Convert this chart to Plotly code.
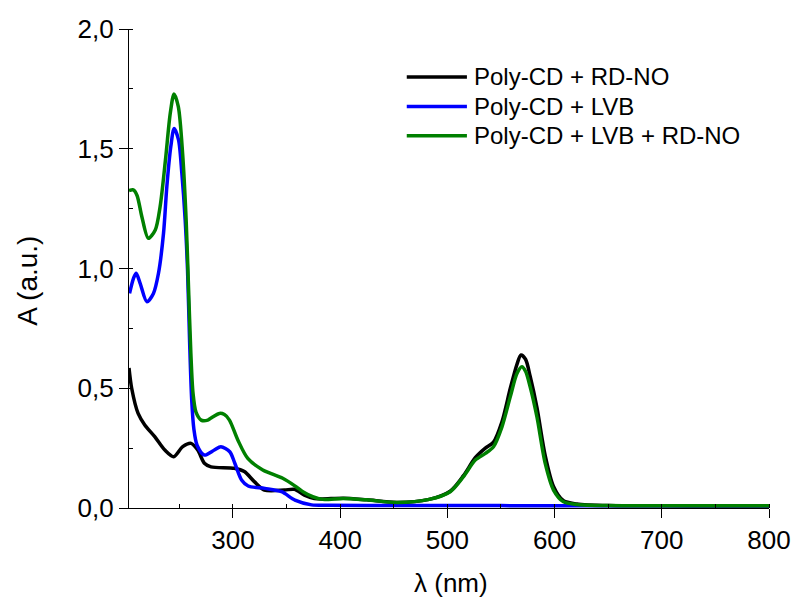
import plotly.graph_objects as go

# UV-Vis absorption spectra (wavelength in nm, absorbance in a.u.)
series_names = ["Poly-CD + RD-NO", "Poly-CD + LVB", "Poly-CD + LVB + RD-NO"]
series_colors = ["#000000", "#0000FF", "#008000"]

wl_rdno = [203, 205.5, 211.5, 217.7, 227, 236.4, 244.7, 253.1, 260.9, 267.1, 273.3, 279.5,
           301.3, 310.6, 319.9, 329.3, 347.9, 357.3, 366.6, 375.9, 383, 403, 425, 453, 483,
           502.6, 515, 526, 535.4, 543, 550.9, 558.7, 564.9, 568.6, 573, 577.2, 583.5, 591.2,
           599, 608.3, 620.7, 650, 700, 750, 800]
abs_rdno = [0.585, 0.50, 0.395, 0.347, 0.298, 0.242, 0.214, 0.256, 0.270, 0.242, 0.187, 0.172,
            0.166, 0.152, 0.110, 0.075, 0.075, 0.078, 0.054, 0.040, 0.038, 0.041, 0.034, 0.023,
            0.036, 0.070, 0.135, 0.210, 0.250, 0.275, 0.360, 0.500, 0.600, 0.639, 0.620, 0.550,
            0.420, 0.220, 0.090, 0.030, 0.017, 0.010, 0.009, 0.008, 0.008]

wl_lvb = [203.5, 207.2, 209.7, 213.4, 219.7, 225.8, 230.5, 235.2, 238.3, 242, 245.1, 249.2,
          252.3, 255.4, 257.6, 259.5, 261.5, 263.5, 266.5, 273.3, 282.6, 288.7, 297, 301.7,
          308, 314.2, 329.7, 345.3, 357.8, 373.3, 390, 450, 550, 650, 800]
abs_lvb = [0.896, 0.959, 0.98, 0.938, 0.861, 0.896, 0.98, 1.147, 1.342, 1.509, 1.585, 1.537,
           1.397, 1.203, 0.994, 0.70, 0.45, 0.33, 0.262, 0.221, 0.242, 0.256, 0.235, 0.187,
           0.117, 0.092, 0.082, 0.068, 0.033, 0.013, 0.011, 0.010, 0.010, 0.009, 0.009]

wl_mix = [203, 207, 210.5, 215, 221, 227.5, 232, 237, 241.5, 245, 249, 253, 256.3, 258.5,
          260.7, 262.7, 265.5, 270.3, 276.5, 281, 287.4, 292, 296.7, 304.5, 313.8, 327.8, 346.4,
          358.8, 366, 374.4, 383.7, 403, 425, 453, 483, 502.6, 515, 526, 535.4, 543, 550.9,
          558.7, 564.9, 569.5, 573, 577.2, 583.5, 591.2, 599, 608.3, 620.7, 650, 700, 800]
abs_mix = [1.325, 1.328, 1.305, 1.216, 1.126, 1.161, 1.258, 1.453, 1.648, 1.729, 1.676, 1.481,
           1.203, 0.924, 0.646, 0.48, 0.40, 0.367, 0.367, 0.38, 0.395, 0.39, 0.367, 0.284,
           0.207, 0.159, 0.124, 0.089, 0.066, 0.047, 0.036, 0.040, 0.034, 0.023, 0.036, 0.068,
           0.131, 0.200, 0.228, 0.256, 0.339, 0.465, 0.562, 0.590, 0.570, 0.506, 0.381, 0.187,
           0.075, 0.026, 0.015, 0.010, 0.009, 0.009]

x_data = [wl_rdno, wl_lvb, wl_mix]
y_data = [abs_rdno, abs_lvb, abs_mix]

FONT = "Arial, Liberation Sans, sans-serif"

fig = go.Figure()
for name, color, xs, ys in zip(series_names, series_colors, x_data, y_data):
    fig.add_trace(go.Scatter(
        x=xs, y=ys, name=name, mode="lines",
        line=dict(color=color, width=3.5, shape="spline", smoothing=0.8),
        showlegend=False,
    ))

# Hand-placed legend: line sample followed by label
legend_x0, legend_x1, legend_text_x = 0.434, 0.528, 0.536
legend_rows = [0.900, 0.838, 0.777]
for name, color, ly in zip(series_names, series_colors, legend_rows):
    fig.add_shape(type="line", xref="paper", yref="paper",
                  x0=legend_x0, x1=legend_x1, y0=ly, y1=ly,
                  line=dict(color=color, width=3.5))
    fig.add_annotation(text=name, xref="paper", yref="paper", x=legend_text_x, y=ly,
                       xanchor="left", yanchor="middle", showarrow=False,
                       font=dict(family=FONT, size=24, color="black"))

# Axis titles
fig.add_annotation(text="λ (nm)", xref="paper", yref="paper", x=0.503, y=-0.157,
                   xanchor="center", yanchor="middle", showarrow=False,
                   font=dict(family=FONT, size=26, color="black"))
fig.add_annotation(text="A (a.u.)", xref="paper", yref="paper", x=-0.158, y=0.474,
                   xanchor="center", yanchor="middle", showarrow=False, textangle=-90,
                   font=dict(family=FONT, size=28, color="black"))

fig.update_layout(
    width=794, height=601,
    margin=dict(l=129, r=25, t=29, b=93),
    paper_bgcolor="white", plot_bgcolor="white",
    separators=",.",
    font=dict(family=FONT, color="black"),
    showlegend=False,
)
fig.update_xaxes(
    range=[203, 800], showgrid=False, zeroline=False, automargin=False,
    showline=True, linecolor="black", linewidth=1.3,
    tick0=0, dtick=100, ticks="outside", ticklen=9, tickwidth=1.3, tickcolor="black",
    tickfont=dict(family=FONT, size=26, color="black"),
    minor=dict(dtick=50, ticks="inside", ticklen=4, tickwidth=1.3, tickcolor="black"),
)
fig.update_yaxes(
    range=[0, 2.0], showgrid=False, zeroline=False, automargin=False,
    showline=True, linecolor="black", linewidth=1.3,
    tick0=0, dtick=0.5, tickformat=".1f",
    ticks="outside", ticklen=9, tickwidth=1.3, tickcolor="black",
    tickfont=dict(family=FONT, size=26, color="black"),
    minor=dict(dtick=0.25, ticks="inside", ticklen=4, tickwidth=1.3, tickcolor="black"),
)

fig.write_html("out.html")
